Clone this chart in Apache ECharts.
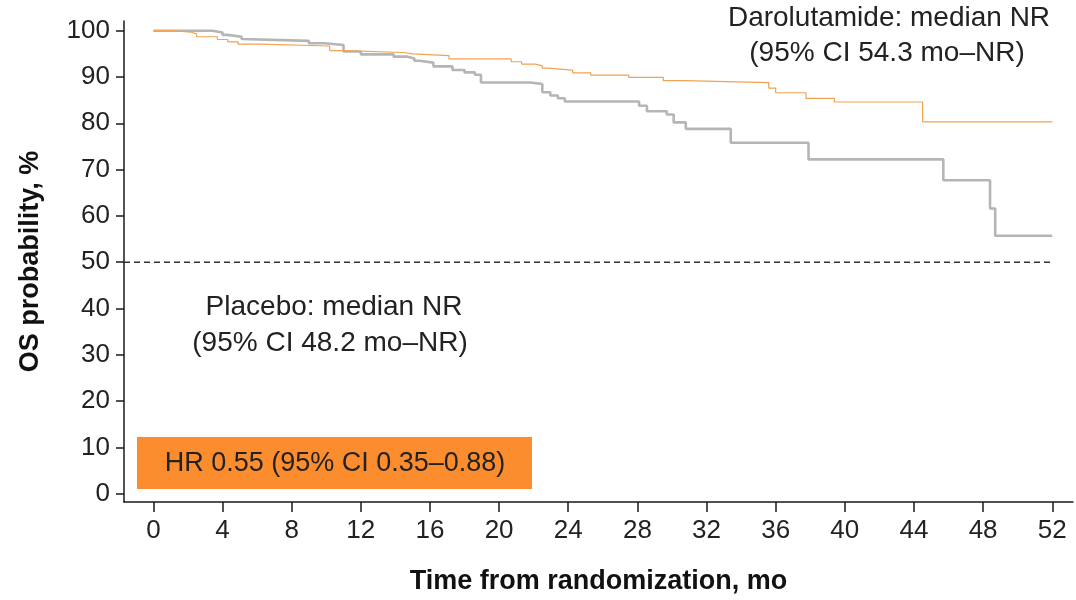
<!DOCTYPE html>
<html>
<head>
<meta charset="utf-8">
<title>Overall survival</title>
<script src="https://cdn.jsdelivr.net/npm/echarts@6/dist/echarts.min.js"></script>
<style>
  html, body { margin: 0; padding: 0; background: #fff; }
  #chart { width: 1076px; height: 600px; }
</style>
</head>
<body>
<div id="chart"></div>
<script>
// Kaplan-Meier overall survival: each pair is [month, survival % after the step]
const darolutamideTimes = [0, 1.06, 2.2, 2.5, 3.7, 4.3, 4.9, 6.1, 10.2, 11.0, 14.5, 15.0, 17.1, 20.7, 21.3, 22.1, 22.5, 22.8, 24.25, 25.3, 27.5, 29.5, 30.7, 35.6, 36.0, 37.75, 39.4, 44.5, 52];
const darolutamideSurv  = [100, 99.7, 99.3, 98.7, 98.1, 97.6, 97.1, 96.7, 95.7, 95.3, 95.0, 94.6, 93.9, 93.3, 92.8, 92.4, 91.9, 91.5, 90.9, 90.4, 89.9, 89.2, 88.8, 87.6, 86.6, 85.4, 84.6, 80.3, 80.3];

const placeboTimes = [0, 3.4, 4.0, 4.3, 5.1, 5.2, 9.0, 9.9, 11.0, 12.0, 13.9, 14.7, 15.1, 15.4, 16.2, 17.3, 18.0, 18.6, 18.95, 21.8, 22.5, 22.96, 23.4, 23.8, 28.1, 28.55, 29.7, 30.1, 30.8, 33.4, 37.9, 45.7, 48.4, 48.7, 52];
const placeboSurv  = [100, 99.6, 99.1, 98.7, 98.2, 97.8, 97.3, 96.9, 95.5, 94.9, 94.4, 94.0, 93.5, 93.1, 92.3, 91.5, 91.0, 90.5, 88.8, 88.5, 86.7, 86.0, 85.4, 84.7, 83.8, 82.6, 81.9, 80.2, 78.8, 75.8, 72.2, 67.7, 61.6, 55.7, 55.7];

const xTicks = [0, 4, 8, 12, 16, 20, 24, 28, 32, 36, 40, 44, 48, 52];
const yTicks = [0, 10, 20, 30, 40, 50, 60, 70, 80, 90, 100];
const medianLine = 50;

const FONT = '"Liberation Sans", Arial, Helvetica, sans-serif';
const TXT = '#222';

const pairs = (xs, ys) => xs.map((x, i) => [x, ys[i]]);

const chart = echarts.init(document.getElementById('chart'), null, { renderer: 'canvas' });

chart.setOption({
  animation: false,
  backgroundColor: '#fff',
  grid: { left: 124, right: 3, top: 21, bottom: 96.3, containLabel: false },
  xAxis: {
    type: 'value',
    min: -1.7,
    max: 53.2,
    name: 'Time from randomization, mo',
    nameLocation: 'middle',
    nameGap: 66,
    nameTextStyle: { fontFamily: FONT, fontSize: 27, fontWeight: 'bold', color: '#111' },
    axisLine: { show: true, onZero: false, lineStyle: { color: '#1a1a1a', width: 1.5 } },
    axisTick: { show: true, customValues: xTicks, length: 10, lineStyle: { color: '#1a1a1a', width: 1.5 } },
    axisLabel: { customValues: xTicks, fontFamily: FONT, fontSize: 26, color: TXT, margin: 16 },
    splitLine: { show: false }
  },
  yAxis: {
    type: 'value',
    min: -1.81,
    max: 102.1,
    name: 'OS probability, %',
    nameLocation: 'middle',
    nameGap: 80,
    nameRotate: 90,
    nameTextStyle: { fontFamily: FONT, fontSize: 27, fontWeight: 'bold', color: '#111' },
    axisLine: { show: true, onZero: false, lineStyle: { color: '#1a1a1a', width: 1.5 } },
    axisTick: { show: true, customValues: yTicks, length: 8, lineStyle: { color: '#1a1a1a', width: 1.5 } },
    axisLabel: { customValues: yTicks, fontFamily: FONT, fontSize: 26, color: TXT, margin: 14 },
    splitLine: { show: false }
  },
  series: [
    {
      name: 'Median',
      type: 'line',
      data: [[-1.7, medianLine], [52, medianLine]],
      symbol: 'none',
      silent: true,
      lineStyle: { color: '#333', width: 1.5, type: [6, 4] },
      z: 1
    },
    {
      name: 'Placebo',
      type: 'line',
      step: 'end',
      data: pairs(placeboTimes, placeboSurv),
      symbol: 'none',
      lineStyle: { color: '#b5b5b5', width: 2.6 },
      z: 2
    },
    {
      name: 'Darolutamide',
      type: 'line',
      step: 'end',
      data: pairs(darolutamideTimes, darolutamideSurv),
      symbol: 'none',
      lineStyle: { color: '#f0a352', width: 1.2 },
      z: 3
    }
  ],
  graphic: [
    {
      type: 'text', x: 889, y: 18,
      style: { text: 'Darolutamide: median NR', fontFamily: FONT, fontSize: 28, fill: TXT, align: 'center', verticalAlign: 'middle' }
    },
    {
      type: 'text', x: 887, y: 53,
      style: { text: '(95% CI 54.3 mo\u2013NR)', fontFamily: FONT, fontSize: 28, fill: TXT, align: 'center', verticalAlign: 'middle' }
    },
    {
      type: 'text', x: 334, y: 307,
      style: { text: 'Placebo: median NR', fontFamily: FONT, fontSize: 28, fill: TXT, align: 'center', verticalAlign: 'middle' }
    },
    {
      type: 'text', x: 330, y: 343,
      style: { text: '(95% CI 48.2 mo\u2013NR)', fontFamily: FONT, fontSize: 28, fill: TXT, align: 'center', verticalAlign: 'middle' }
    },
    {
      type: 'group',
      children: [
        { type: 'rect', shape: { x: 137, y: 437, width: 395, height: 52 }, style: { fill: '#fb8d2f' } },
        {
          type: 'text', x: 335, y: 464,
          style: { text: 'HR 0.55 (95% CI 0.35\u20130.88)', fontFamily: FONT, fontSize: 27, fill: '#222', align: 'center', verticalAlign: 'middle' }
        }
      ]
    }
  ]
});
</script>
</body>
</html>
